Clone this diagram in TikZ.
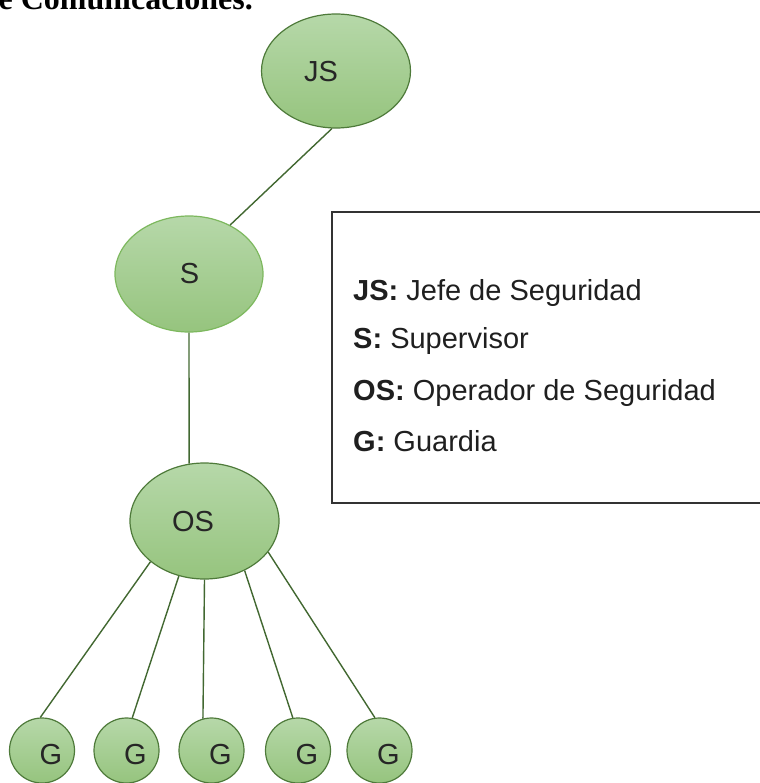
\documentclass[tikz,border=0pt]{standalone}
\usepackage{fontspec}
\setmainfont{Liberation Sans}
\newfontfamily\headfont{Liberation Serif}
\usetikzlibrary{shapes.geometric}
\definecolor{gtop}{HTML}{B6D8A9}
\definecolor{gbot}{HTML}{96C47E}
\definecolor{gline}{HTML}{4E7A3A}
\definecolor{glight}{HTML}{7DB85E}
\definecolor{boxline}{HTML}{333333}
\tikzset{
  orgell/.style={ellipse, draw=gline, line width=1.2pt, top color=gtop, bottom color=gbot, inner sep=0pt},
  guard/.style={circle, draw=gline, line width=1.2pt, top color=gtop, bottom color=gbot, inner sep=0pt, minimum size=65pt},
  lbl/.style={font=\fontsize{29}{34}\selectfont, text=black!85, inner sep=0pt},
  conn/.style={draw=gline!85!black, line width=1.4pt},
  legtext/.style={font=\fontsize{29}{34}\selectfont, text=black!88, anchor=base west, inner sep=0pt},
}
\begin{document}
\begin{tikzpicture}[x=1pt,y=-1pt]
\useasboundingbox (0,0) rectangle (759,783);
% heading fragment
\node[font=\headfont\bfseries\fontsize{32}{36}\selectfont, anchor=base east, inner sep=0pt] (head) at (253,10) {e Comunicaciones.};
% legend box
\draw[boxline, line width=1.2pt] (770,212) -- (332,212) -- (332,503) -- (770,503);
\node[legtext] (l1) at (353,300) {\textbf{JS:} Jefe de Seguridad};
\node[legtext] (l2) at (353,348) {\textbf{S:} Supervisor};
\node[legtext] (l3) at (353,400) {\textbf{OS:} Operador de Seguridad};
\node[legtext] (l4) at (353,451) {\textbf{G:} Guardia};
% nodes
\node[orgell, minimum width=149pt, minimum height=114pt] (js) at (336,71) {};
\node[lbl] (jst) at (321,72) {JS};
\node[orgell, draw=glight, minimum width=148pt, minimum height=116pt] (s) at (189,274) {};
\node[lbl] (st) at (189.5,273.5) {S};
\node[orgell, minimum width=149pt, minimum height=116pt] (os) at (204.5,521) {};
\node[lbl] (ost) at (193,521.5) {OS};
\node[guard] (g1) at (42,750.5) {};
\node[guard] (g2) at (126.5,750.5) {};
\node[guard] (g3) at (211.5,750.5) {};
\node[guard] (g4) at (298,750.5) {};
\node[guard] (g5) at (379.5,750.5) {};
\foreach \i in {1,...,5} {\node[lbl, xshift=9pt, yshift=-4pt] (g\i t) at (g\i) {G};}
% connectors
\draw[conn] (js.266) -- (s.50);
\draw[conn] (s.south) -- (os.105);
\draw[conn] (os.217) -- (g1.93);
\draw[conn] (os.245) -- (g2.80);
\draw[conn] (os.270) -- (g3.105);
\draw[conn] (os.309) -- (g4.99);
\draw[conn] (os.334) -- (g5.98);
\end{tikzpicture}
\end{document}
